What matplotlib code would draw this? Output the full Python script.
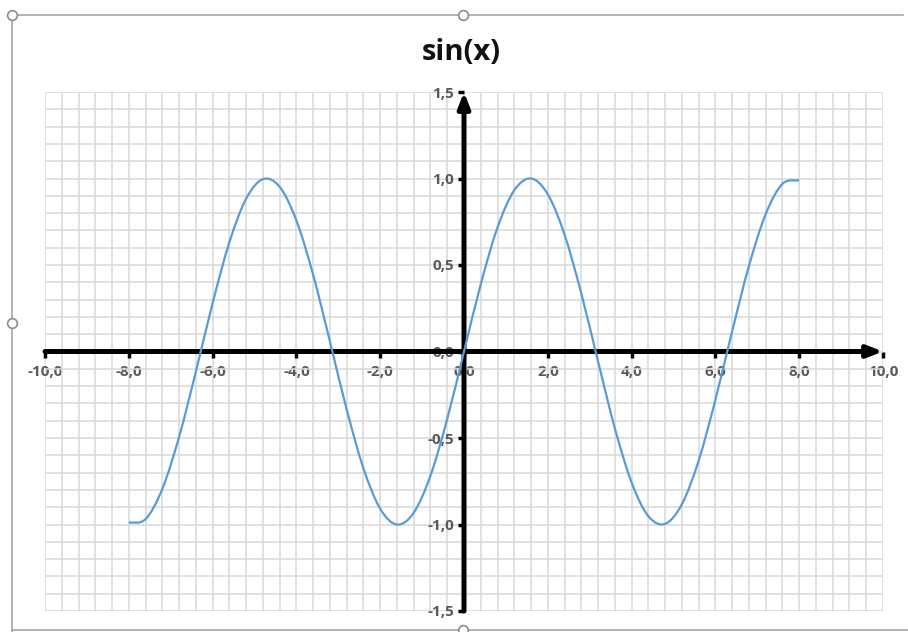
import numpy as np
import matplotlib
matplotlib.use('Agg')
import matplotlib.pyplot as plt
from matplotlib.path import Path
from matplotlib.patches import PathPatch, FancyArrowPatch
from matplotlib.lines import Line2D
from matplotlib.ticker import MultipleLocator, FuncFormatter

# Data (points every 0.4, drawn with a smoothed line)
x_vals = [-8.0, -7.6, -7.2, -6.8, -6.4, -6.0, -5.6, -5.2, -4.8, -4.4, -4.0,
          -3.6, -3.2, -2.8, -2.4, -2.0, -1.6, -1.2, -0.8, -0.4, 0.0,
          0.4, 0.8, 1.2, 1.6, 2.0, 2.4, 2.8, 3.2, 3.6, 4.0,
          4.4, 4.8, 5.2, 5.6, 6.0, 6.4, 6.8, 7.2, 7.6, 8.0]
y_vals = [-0.989, -0.969, -0.794, -0.494, -0.117, 0.279, 0.631, 0.883, 0.996, 0.952, 0.757,
          0.443, 0.058, -0.335, -0.675, -0.909, -1.000, -0.932, -0.717, -0.389, 0.000,
          0.389, 0.717, 0.932, 1.000, 0.909, 0.675, 0.335, -0.058, -0.443, -0.757,
          -0.952, -0.996, -0.883, -0.631, -0.279, 0.117, 0.494, 0.794, 0.969, 0.989]

title = 'sin(x)'
x_range = (-10, 10)
y_range = (-1.5, 1.5)
font = ['Open Sans', 'DejaVu Sans']

W, H = 908, 632
fig = plt.figure(figsize=(W / 100, H / 100), dpi=100)
ax = fig.add_axes([45 / W, (H - 611) / H, (883 - 45) / W, (611 - 92) / H])
ax.set_xlim(*x_range)
ax.set_ylim(*y_range)
ax.set_axisbelow(True)

# Gridlines (major + minor, same look as Excel)
ax.xaxis.set_major_locator(MultipleLocator(2))
ax.xaxis.set_minor_locator(MultipleLocator(0.4))
ax.yaxis.set_major_locator(MultipleLocator(0.5))
ax.yaxis.set_minor_locator(MultipleLocator(0.1))
ax.grid(which='both', color='#d9d9d9', lw=1.1)

# Axes crossing at zero
for s in ['top', 'right']:
    ax.spines[s].set_visible(False)
ax.spines['bottom'].set_position(('data', 0))
ax.spines['left'].set_position(('data', 0))
ax.spines['bottom'].set_visible(False)
ax.spines['left'].set_visible(False)

fmt = FuncFormatter(lambda v, p: ('%.1f' % v).replace('.', ','))
ax.xaxis.set_major_formatter(fmt)
ax.yaxis.set_major_formatter(fmt)
ax.tick_params(which='minor', length=0)
ax.tick_params(which='major', length=4, width=2.5, color='black', direction='out',
               labelcolor='#595959', labelsize=11)
ax.tick_params(axis='x', pad=6)
ax.tick_params(axis='y', pad=3)
for lab in ax.get_xticklabels() + ax.get_yticklabels():
    lab.set_fontfamily(font)
    lab.set_fontweight('bold')

# Black axis arrows
arr_kw = dict(arrowstyle='-|>,head_length=0.9,head_width=0.35', mutation_scale=10,
              lw=3.6, color='black', shrinkA=0, shrinkB=0, clip_on=False, zorder=3)
ax.add_patch(FancyArrowPatch((x_range[0], 0), (x_range[1], 0), **arr_kw))
ax.add_patch(FancyArrowPatch((0, y_range[0]), (0, y_range[1]), **arr_kw))

# Smoothed line (Excel style bezier through the points)
pts = np.column_stack([x_vals, y_vals])
n = len(pts)
verts = [pts[0]]
codes = [Path.MOVETO]
for i in range(n - 1):
    p_prev = pts[max(i - 1, 0)]
    p0 = pts[i]
    p1 = pts[i + 1]
    p_next = pts[min(i + 2, n - 1)]
    verts += [p0 + (p1 - p_prev) / 6, p1 - (p_next - p0) / 6, p1]
    codes += [Path.CURVE4] * 3
ax.add_patch(PathPatch(Path(verts, codes), fill=False, edgecolor='#5b9bd5', lw=1.6, zorder=4))

fig.text(461 / W, 1 - 53 / H, title, ha='center', va='center', fontsize=21,
         fontweight='bold', family=font, color='#111111')

# Selection frame around the chart
fc = '#a6a6a6'
def px(xp, yp):
    return xp / W, 1 - yp / H
fig.add_artist(Line2D(*zip(px(12, 15), px(903, 15)), color=fc, lw=1.2))
fig.add_artist(Line2D(*zip(px(12, 15), px(12, 632)), color=fc, lw=1.2))
fig.add_artist(Line2D(*zip(px(12, 630), px(908, 630)), color=fc, lw=1.2))
for hx, hy in [(12, 15), (463, 15), (12, 323), (463, 630)]:
    fig.add_artist(Line2D([px(hx, hy)[0]], [px(hx, hy)[1]], marker='o', ms=7,
                          mfc='white', mec='#8c8c8c', mew=1.2))

fig.savefig('out.png', dpi=100)
